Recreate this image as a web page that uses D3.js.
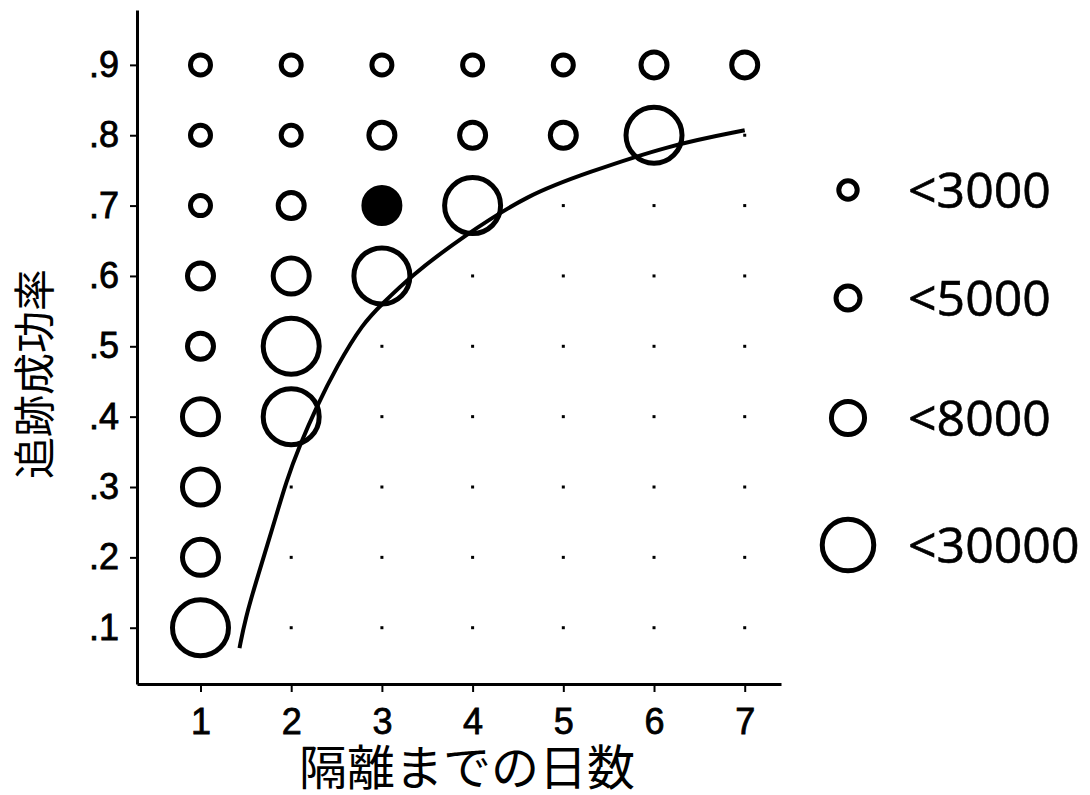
<!DOCTYPE html>
<html>
<head>
<meta charset="utf-8">
<script src="https://cdn.jsdelivr.net/npm/d3@7"></script>
<style>
  body { margin: 0; background: #fff; }
</style>
</head>
<body>
<div id="chart"></div>
<script>
// x: days until isolation, y: tracing success rate
var days = [1, 2, 3, 4, 5, 6, 7];
var rates = [0.1, 0.2, 0.3, 0.4, 0.5, 0.6, 0.7, 0.8, 0.9];
var sizeLabels = ["<3000", "<5000", "<8000", "<30000"];

// size class (index into sizeLabels) per cell; rows follow rates, columns follow days; null = no circle
var sizeGrid = [
    [3, null, null, null, null, null, null],   // .1
    [2, null, null, null, null, null, null],   // .2
    [2, null, null, null, null, null, null],   // .3
    [2, 3, null, null, null, null, null],      // .4
    [1, 3, null, null, null, null, null],      // .5
    [1, 2, 3, null, null, null, null],         // .6
    [0, 1, 2, 3, null, null, null],            // .7
    [0, 0, 1, 1, 1, 3, null],                  // .8
    [0, 0, 0, 0, 0, 1, 1]                      // .9
];
// the one filled marker
var filledDays = [3];
var filledRates = [0.7];

// fitted curve
var curveDays = [1.43, 1.49, 1.63, 1.80, 1.95, 2.09, 2.28, 2.50, 2.79, 3.01, 3.31, 3.89, 4.63, 5.25, 6.17, 7.0];
var curveRates = [0.071, 0.111, 0.173, 0.244, 0.310, 0.358, 0.414, 0.471, 0.533, 0.561, 0.599, 0.656, 0.717, 0.746, 0.786, 0.807];

var width = 1090, height = 795;

var svg = d3.select("#chart").append("svg")
    .attr("width", width)
    .attr("height", height);

var x = d3.scaleLinear().domain([0.3, 7.4]).range([137, 781]);
var y = d3.scaleLinear().domain([0.02, 0.978]).range([684, 10]);
var r = d3.scaleOrdinal().domain([0, 1, 2, 3]).range([10, 13, 18, 28]);

// Axes
var yAxis = svg.append("g")
    .attr("transform", "translate(" + x.range()[0] + ",0)")
    .call(d3.axisLeft(y)
        .tickValues(rates)
        .tickSize(7)
        .tickSizeOuter(0)
        .tickPadding(11)
        .tickFormat(function (d) { return d3.format(".1f")(d).replace(/^0/, ""); }));

var xAxis = svg.append("g")
    .attr("transform", "translate(0," + y.range()[0] + ")")
    .call(d3.axisBottom(x)
        .tickValues(days)
        .tickSize(8)
        .tickSizeOuter(0)
        .tickPadding(16));

[xAxis, yAxis].forEach(function (a) {
    a.attr("font-size", null).attr("font-family", null);
    a.select(".domain").attr("stroke", "#000").attr("stroke-width", 3);
    a.selectAll(".tick line").attr("stroke", "#000").attr("stroke-width", 2);
    a.selectAll(".tick text")
        .style("font-size", "36px")
        .style("font-family", "'Liberation Sans', Arial, sans-serif")
        .attr("fill", "#000")
        .attr("stroke", "#000")
        .attr("stroke-width", 0.8);
});

// Cells
var cells = [];
rates.forEach(function (rate, i) {
    days.forEach(function (day, j) {
        cells.push({ day: day, rate: rate, cls: sizeGrid[i][j] });
    });
});

// small dots where there is no circle
svg.append("g").selectAll("rect")
    .data(cells.filter(function (d) { return d.cls === null; }))
    .join("rect")
    .attr("x", function (d) { return x(d.day) - 1.5; })
    .attr("y", function (d) { return y(d.rate) - 1.5; })
    .attr("width", 3)
    .attr("height", 3)
    .attr("fill", "#000");

function isFilled(d) {
    return filledDays.some(function (fd, k) { return fd === d.day && filledRates[k] === d.rate; });
}

svg.append("g").selectAll("circle")
    .data(cells.filter(function (d) { return d.cls !== null; }))
    .join("circle")
    .attr("cx", function (d) { return x(d.day); })
    .attr("cy", function (d) { return y(d.rate); })
    .attr("r", function (d) { return r(d.cls); })
    .attr("fill", function (d) { return isFilled(d) ? "#000" : "none"; })
    .attr("stroke", "#000")
    .attr("stroke-width", 5);

// Curve
var line = d3.line()
    .x(function (d) { return x(d[0]); })
    .y(function (d) { return y(d[1]); })
    .curve(d3.curveBasis);

svg.append("path")
    .datum(d3.zip(curveDays, curveRates))
    .attr("d", line)
    .attr("fill", "none")
    .attr("stroke", "#000")
    .attr("stroke-width", 4);

// Axis titles
svg.append("text")
    .attr("x", 467)
    .attr("y", 785)
    .attr("text-anchor", "middle")
    .attr("font-family", "'Noto Sans CJK JP', sans-serif")
    .attr("font-size", 48)
    .text("隔離までの日数");

svg.append("text")
    .attr("transform", "translate(50,374) rotate(-90)")
    .attr("text-anchor", "middle")
    .attr("font-family", "'Noto Sans CJK JP', sans-serif")
    .attr("font-size", 42)
    .text("追跡成功率");

// Legend
var legendY = [190, 298, 418, 545];
var legend = svg.append("g").selectAll("g")
    .data(sizeLabels)
    .join("g")
    .attr("transform", function (d, i) { return "translate(848," + legendY[i] + ")"; });

legend.append("circle")
    .attr("r", function (d, i) { return r(i) * 0.92; })
    .attr("fill", "none")
    .attr("stroke", "#000")
    .attr("stroke-width", 5);

legend.append("text")
    .attr("x", 60)
    .attr("dy", "0.36em")
    .attr("font-family", "'Open Sans', sans-serif")
    .attr("font-size", 50)
    .attr("stroke", "#000")
    .attr("stroke-width", 0.6)
    .text(function (d) { return d; });
</script>
</body>
</html>
